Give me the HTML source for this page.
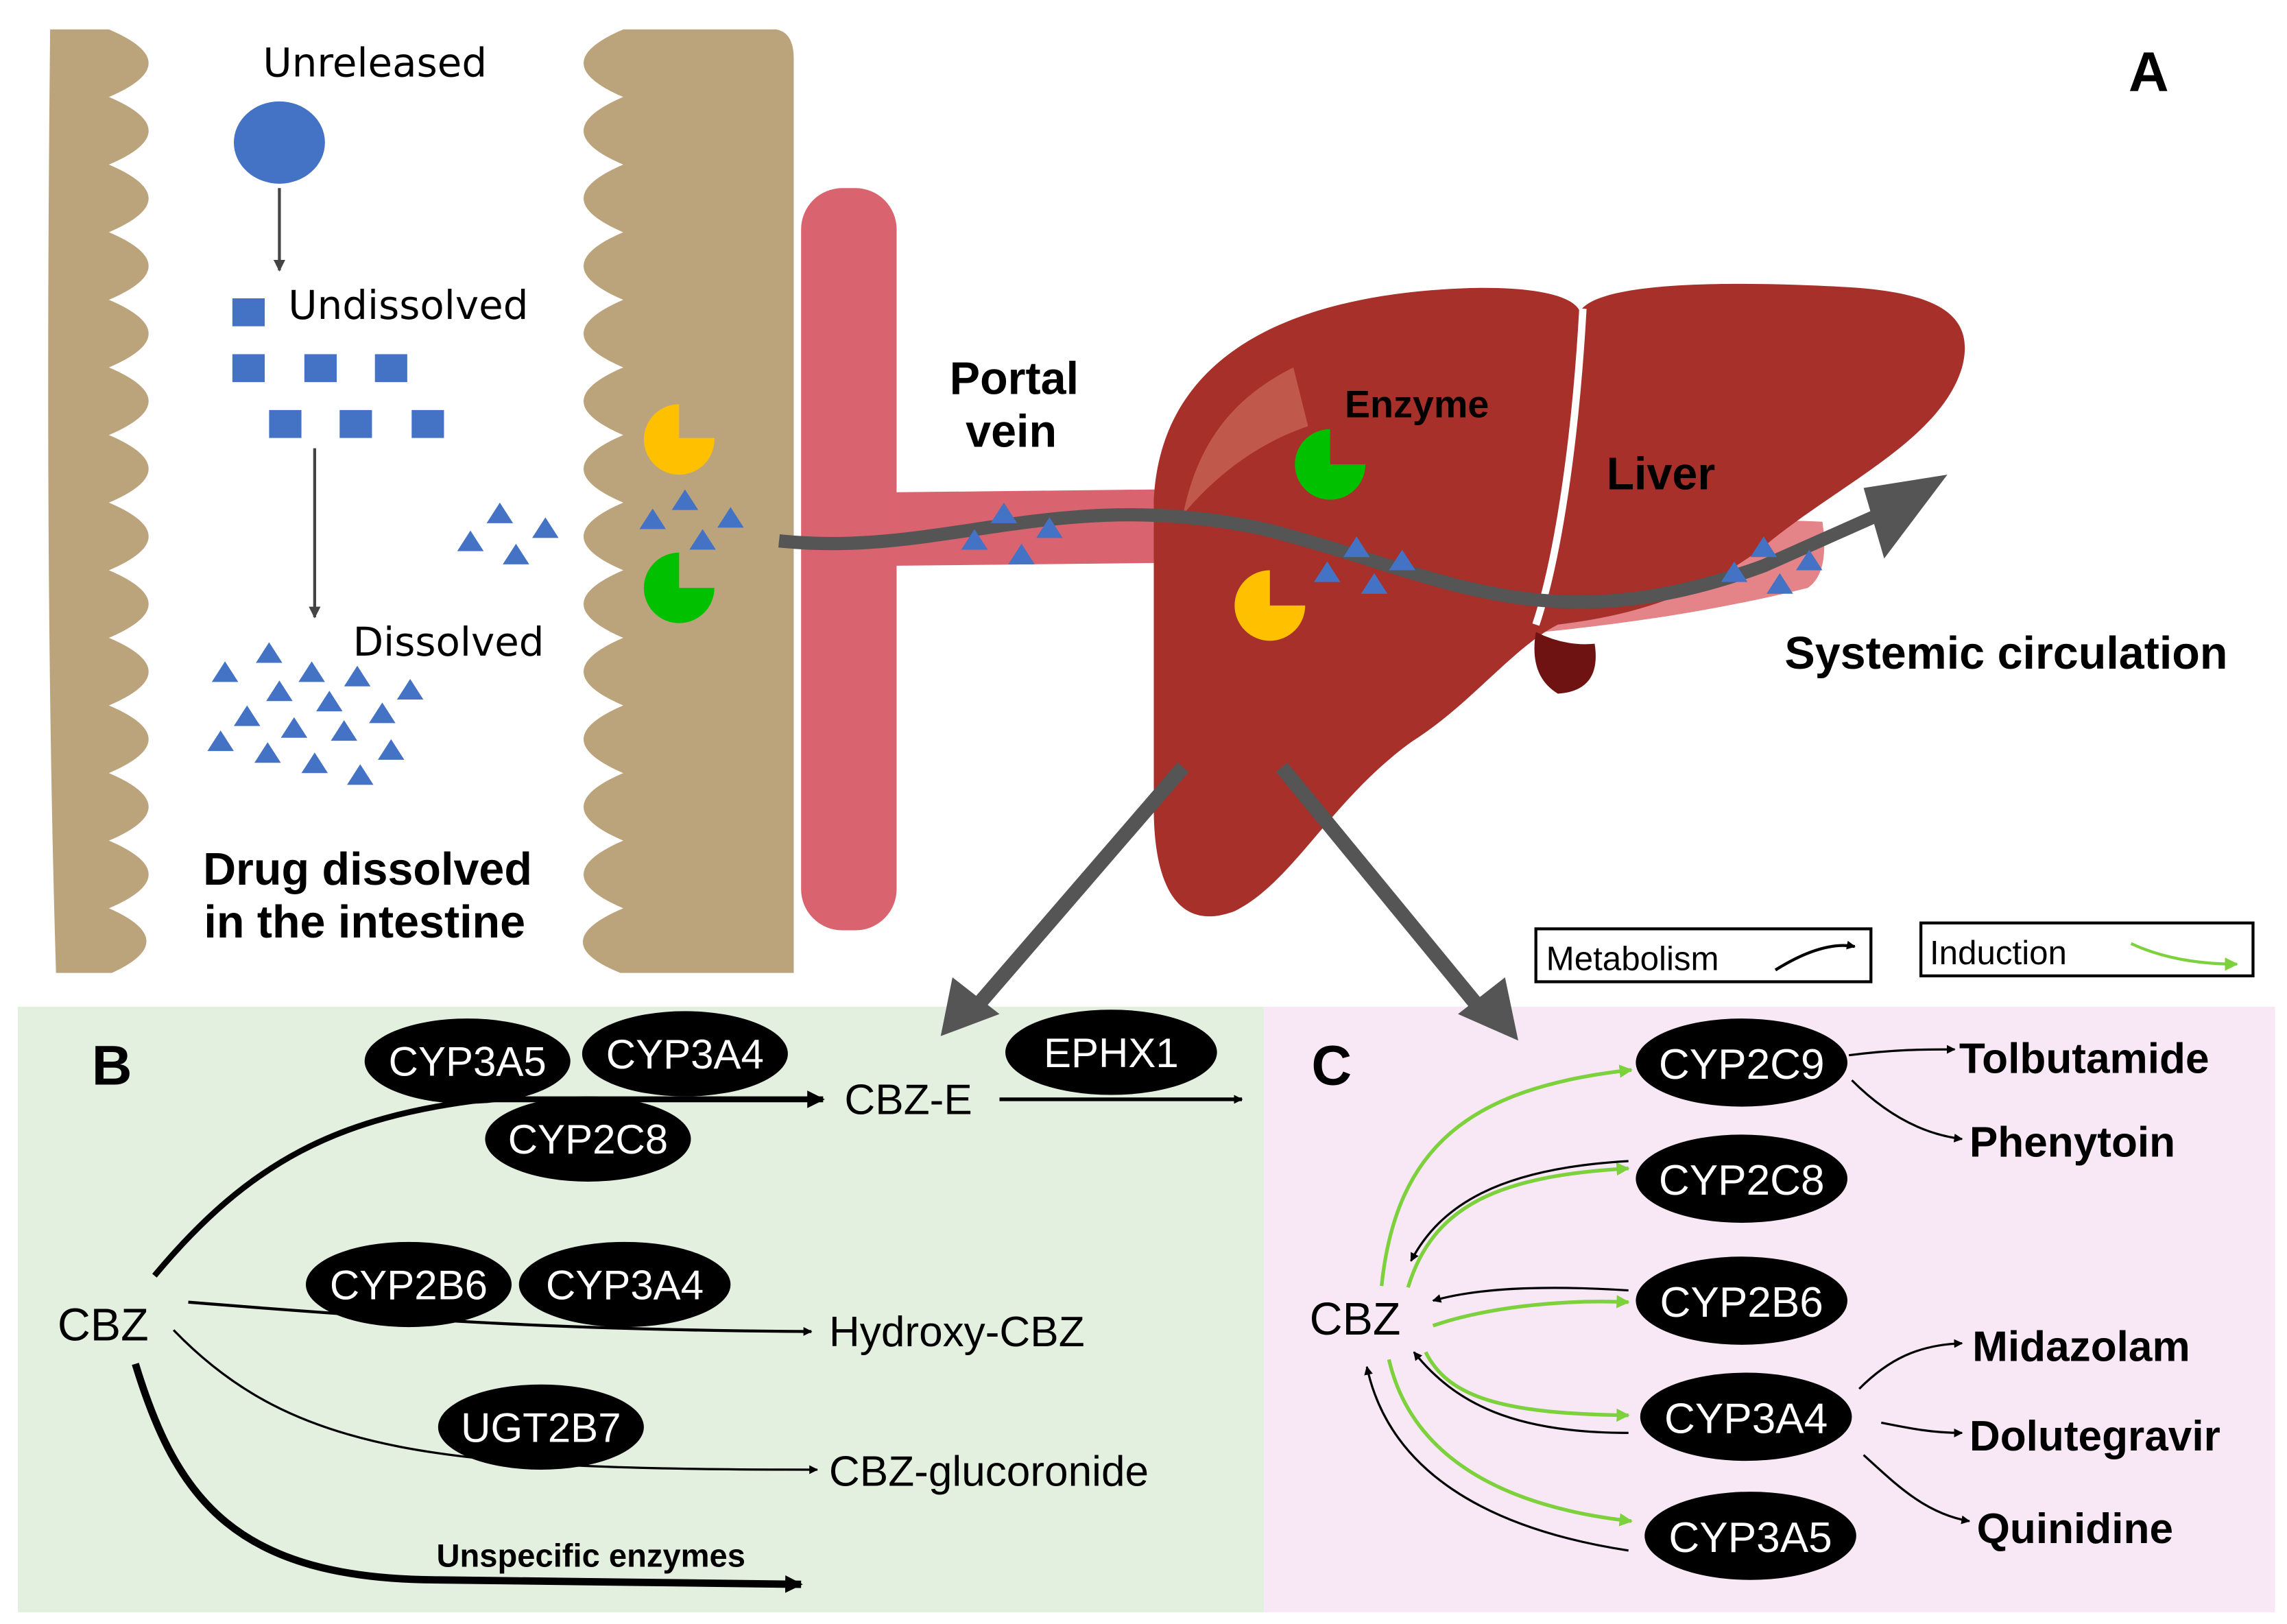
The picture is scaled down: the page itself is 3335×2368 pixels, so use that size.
<!DOCTYPE html>
<html><head><meta charset="utf-8"><style>html,body{margin:0;padding:0;background:#fff}svg{display:block}</style></head>
<body>
<svg width="3335" height="2368" viewBox="0 0 1556 1105" xmlns="http://www.w3.org/2000/svg" font-family="Liberation Sans, sans-serif">
<defs>
<marker id="ak" viewBox="0 0 10 10" refX="9" refY="5" markerWidth="6" markerHeight="6" orient="auto" markerUnits="userSpaceOnUse"><path d="M0,0L10,5L0,10z" fill="#000"/></marker>
<marker id="akb" viewBox="0 0 10 10" refX="9" refY="5" markerWidth="12" markerHeight="12" orient="auto" markerUnits="userSpaceOnUse"><path d="M0,0L10,5L0,10z" fill="#000"/></marker>
<marker id="ag" viewBox="0 0 10 10" refX="9" refY="5" markerWidth="9" markerHeight="9" orient="auto" markerUnits="userSpaceOnUse"><path d="M0,0L10,5L0,10z" fill="#7dd13c"/></marker>
<marker id="ad" viewBox="0 0 10 10" refX="9" refY="5" markerWidth="8" markerHeight="8" orient="auto" markerUnits="userSpaceOnUse"><path d="M0,0L10,5L0,10z" fill="#444"/></marker>
</defs>
<rect width="1556" height="1105" fill="#fff"/>
<!-- intestine walls -->
<path fill="#bba47c" d="M34,20 L74,20 Q128,43 74,66 Q128,89 74,112 Q128,135 74,158 Q128,181 74,204 Q128,227 74,250 Q128,273 74,296 Q128,319 74,342 Q128,365 74,388 Q128,411 74,434 Q128,457 74,480 Q128,503 74,526 Q128,549 74,572 Q128,595 74,618 Q124,640 76,662 L38,662 Q30,400 34,20Z"/>
<path fill="#bba47c" d="M424,20 L528,20 Q540,22 540,40 L540,662 L422,662 Q370,641 424,618 Q370,595 424,572 Q370,549 424,526 Q370,503 424,480 Q370,457 424,434 Q370,411 424,388 Q370,365 424,342 Q370,319 424,296 Q370,273 424,250 Q370,227 424,204 Q370,181 424,158 Q370,135 424,112 Q370,89 424,66 Q370,43 424,20Z"/>
<!-- portal vein -->
<rect x="545" y="128" width="65" height="505" rx="28" fill="#d9636e"/>
<path d="M605,335 L790,333 L790,383 L605,385Z" fill="#d9636e"/>
<path d="M1040,380 Q1150,350 1240,355 Q1245,390 1230,400 Q1150,420 1050,430Z" fill="#e48489"/>
<!-- liver -->
<path fill="#a8302a" d="M785,340 C790,240 880,200 1000,196 C1040,195 1070,200 1075,212 C1085,195 1150,190 1250,195 C1315,198 1345,212 1335,250 C1320,300 1250,330 1200,372 C1150,410 1100,420 1060,425 C1030,440 1000,480 960,505 C905,545 880,600 840,620 C800,635 785,600 785,550 Z"/>
<path d="M880,250 C840,270 815,300 805,350 C830,320 860,300 890,290Z" fill="#c0584b"/>
<path d="M1077,210 C1072,300 1060,380 1045,425" stroke="#fff" stroke-width="5" fill="none"/>
<path d="M1045,430 Q1065,440 1085,438 Q1090,470 1060,472 Q1040,460 1045,430Z" fill="#6f1212"/>
<!-- flow arrow -->
<path d="M530,368 C640,380 720,330 860,360 C980,390 1050,440 1200,385 L1290,345" stroke="#555" stroke-width="9" fill="none"/>
<path d="M1268,332 L1325,323 L1282,380Z" fill="#555"/>
<!-- intestine contents -->
<text x="255" y="52" font-size="27" text-anchor="middle" font-family="DejaVu Sans, sans-serif">Unreleased</text>
<ellipse cx="190" cy="97" rx="31" ry="28" fill="#4472c4"/>
<line x1="190" y1="128" x2="190" y2="184" stroke="#444" stroke-width="2" marker-end="url(#ad)"/>
<text x="196" y="217" font-size="27" font-family="DejaVu Sans, sans-serif">Undissolved</text>
<g fill="#4472c4"><rect x="158" y="203" width="22" height="19"/><rect x="158" y="241" width="22" height="19"/><rect x="207" y="241" width="22" height="19"/><rect x="255" y="241" width="22" height="19"/><rect x="183" y="279" width="22" height="19"/><rect x="231" y="279" width="22" height="19"/><rect x="280" y="279" width="22" height="19"/></g>
<line x1="214" y1="305" x2="214" y2="420" stroke="#444" stroke-width="2" marker-end="url(#ad)"/>
<text x="240" y="446" font-size="27" font-family="DejaVu Sans, sans-serif">Dissolved</text>
<g fill="#4472c4">
<path d="M183,437l9,14h-18z M212,450l9,14h-18z M243,453l9,14h-18z M279,462l9,14h-18z M153,450l9,14h-18z M190,463l9,14h-18z M224,470l9,14h-18z M168,480l9,14h-18z M200,488l9,14h-18z M260,478l9,14h-18z M150,497l9,14h-18z M182,505l9,14h-18z M234,490l9,14h-18z M266,503l9,14h-18z M214,512l9,14h-18z M245,520l9,14h-18z"/>
<path d="M340,342l9,14h-18z M320,361l9,14h-18z M371,352l9,14h-18z M351,370l9,14h-18z"/>
<path d="M466,333l9,14h-18z M444,346l9,14h-18z M497,345l9,14h-18z M478,360l9,14h-18z"/>
<path d="M683,342l9,14h-18z M663,360l9,14h-18z M714,352l9,14h-18z M695,370l9,14h-18z"/>
<path d="M923,365l9,14h-18z M903,382l9,14h-18z M954,374l9,14h-18z M935,390l9,14h-18z"/>
<path d="M1200,365l9,14h-18z M1180,382l9,14h-18z M1231,374l9,14h-18z M1211,390l9,14h-18z"/>
</g>
<path d="M462,298 L462,275 A24,24 0 1,0 486,298Z" fill="#ffc000"/>
<path d="M462,400 L462,376 A24,24 0 1,0 486,400Z" fill="#00c000"/>
<path d="M905,316 L905,292 A24,24 0 1,0 929,316Z" fill="#00c000"/>
<path d="M864,412 L864,388 A24,24 0 1,0 888,412Z" fill="#ffc000"/>
<text x="250" y="602" font-size="31" font-weight="bold" text-anchor="middle">Drug dissolved</text>
<text x="248" y="638" font-size="31" font-weight="bold" text-anchor="middle">in the intestine</text>
<text x="690" y="268" font-size="31" font-weight="bold" text-anchor="middle">Portal</text>
<text x="688" y="304" font-size="31" font-weight="bold" text-anchor="middle">vein</text>
<text x="964" y="284" font-size="26" font-weight="bold" text-anchor="middle">Enzyme</text>
<text x="1130" y="333" font-size="31" font-weight="bold" text-anchor="middle">Liver</text>
<text x="1365" y="455" font-size="31" font-weight="bold" text-anchor="middle">Systemic circulation</text>
<text x="1462" y="62" font-size="38" font-weight="bold" text-anchor="middle">A</text>
<!-- panels -->
<rect x="12" y="685" width="848" height="412" fill="#e3f0e0"/>
<rect x="860" y="685" width="688" height="412" fill="#f8e8f6"/>
<!-- big arrows -->
<line x1="805" y1="522" x2="660" y2="690" stroke="#555" stroke-width="10"/>
<path d="M640,705 L648,665 L680,690Z" fill="#555"/>
<line x1="872" y1="522" x2="1010" y2="690" stroke="#555" stroke-width="10"/>
<path d="M1033,708 L992,690 L1024,665Z" fill="#555"/>
<!-- legends -->
<rect x="1045" y="632" width="228" height="36" fill="#fff" stroke="#000" stroke-width="2"/>
<text x="1052" y="660" font-size="23">Metabolism</text>
<path d="M1208,660 Q1240,640 1262,644" stroke="#000" stroke-width="2" fill="none" marker-end="url(#ak)"/>
<rect x="1307" y="628" width="226" height="36" fill="#fff" stroke="#000" stroke-width="2"/>
<text x="1313" y="656" font-size="23">Induction</text>
<path d="M1450,642 Q1480,656 1522,656" stroke="#7dd13c" stroke-width="2" fill="none" marker-end="url(#ag)"/>
<!-- panel B -->
<text x="76" y="738" font-size="38" font-weight="bold" text-anchor="middle">B</text>
<text x="70" y="912" font-size="31" text-anchor="middle">CBZ</text>
<path d="M105,868 C170,790 230,760 330,748 L560,748" stroke="#000" stroke-width="4" fill="none" marker-end="url(#akb)"/>
<text x="618" y="758" font-size="29" text-anchor="middle">CBZ-E</text>
<line x1="680" y1="748" x2="845" y2="748" stroke="#000" stroke-width="2.5" marker-end="url(#ak)"/>
<path d="M128,886 C300,900 400,905 552,906" stroke="#000" stroke-width="2" fill="none" marker-end="url(#ak)"/>
<text x="564" y="916" font-size="29">Hydroxy-CBZ</text>
<path d="M118,905 C200,990 300,1000 556,1000" stroke="#000" stroke-width="1.5" fill="none" marker-end="url(#ak)"/>
<text x="564" y="1011" font-size="29">CBZ-glucoronide</text>
<path d="M92,928 C120,1020 160,1075 300,1075 L545,1078" stroke="#000" stroke-width="5" fill="none" marker-end="url(#akb)"/>
<text x="402" y="1066" font-size="22" font-weight="bold" text-anchor="middle">Unspecific enzymes</text>
<g fill="#000"><ellipse cx="318" cy="722" rx="70" ry="29"/><ellipse cx="466" cy="717" rx="70" ry="29"/><ellipse cx="400" cy="775" rx="70" ry="29"/><ellipse cx="756" cy="716" rx="72" ry="29"/><ellipse cx="278" cy="874" rx="70" ry="29"/><ellipse cx="425" cy="874" rx="72" ry="29"/><ellipse cx="368" cy="971" rx="70" ry="29"/></g>
<g fill="#fff" font-size="28" text-anchor="middle"><text x="318" y="732">CYP3A5</text><text x="466" y="727">CYP3A4</text><text x="400" y="785">CYP2C8</text><text x="756" y="726">EPHX1</text><text x="278" y="884">CYP2B6</text><text x="425" y="884">CYP3A4</text><text x="368" y="981">UGT2B7</text></g>
<!-- panel C -->
<text x="906" y="738" font-size="38" font-weight="bold" text-anchor="middle">C</text>
<text x="922" y="908" font-size="31" text-anchor="middle">CBZ</text>
<g stroke="#7dd13c" stroke-width="2.5" fill="none">
<path d="M940,875 C950,780 1000,740 1110,728" marker-end="url(#ag)"/>
<path d="M958,876 C975,820 1020,800 1108,795" marker-end="url(#ag)"/>
<path d="M975,902 C1010,890 1060,884 1108,886" marker-end="url(#ag)"/>
<path d="M970,920 C985,950 1020,962 1108,963" marker-end="url(#ag)"/>
<path d="M945,925 C960,990 1020,1025 1110,1035" marker-end="url(#ag)"/>
</g>
<g stroke="#000" stroke-width="1.5" fill="none">
<path d="M1108,790 C1020,795 980,820 960,858" marker-end="url(#ak)"/>
<path d="M1108,878 C1060,875 1010,875 975,885" marker-end="url(#ak)"/>
<path d="M1108,975 C1030,975 990,955 962,920" marker-end="url(#ak)"/>
<path d="M1108,1055 C1010,1040 945,1000 930,930" marker-end="url(#ak)"/>
<path d="M1258,718 C1290,714 1310,714 1330,714" marker-end="url(#ak)"/>
<path d="M1260,735 C1285,760 1310,772 1335,775" marker-end="url(#ak)"/>
<path d="M1265,945 C1285,925 1305,915 1335,914" marker-end="url(#ak)"/>
<path d="M1280,968 C1300,972 1315,975 1335,975" marker-end="url(#ak)"/>
<path d="M1268,990 C1290,1010 1310,1030 1340,1035" marker-end="url(#ak)"/>
</g>
<g fill="#000"><ellipse cx="1185" cy="723" rx="72" ry="30"/><ellipse cx="1185" cy="802" rx="72" ry="30"/><ellipse cx="1185" cy="885" rx="72" ry="30"/><ellipse cx="1188" cy="964" rx="72" ry="30"/><ellipse cx="1191" cy="1045" rx="72" ry="30"/></g>
<g fill="#fff" font-size="29" text-anchor="middle"><text x="1185" y="734">CYP2C9</text><text x="1185" y="813">CYP2C8</text><text x="1185" y="896">CYP2B6</text><text x="1188" y="975">CYP3A4</text><text x="1191" y="1056">CYP3A5</text></g>
<g font-size="29" font-weight="bold"><text x="1333" y="730">Tolbutamide</text><text x="1340" y="787">Phenytoin</text><text x="1342" y="926">Midazolam</text><text x="1340" y="987">Dolutegravir</text><text x="1345" y="1050">Quinidine</text></g>
</svg>
</body></html>
